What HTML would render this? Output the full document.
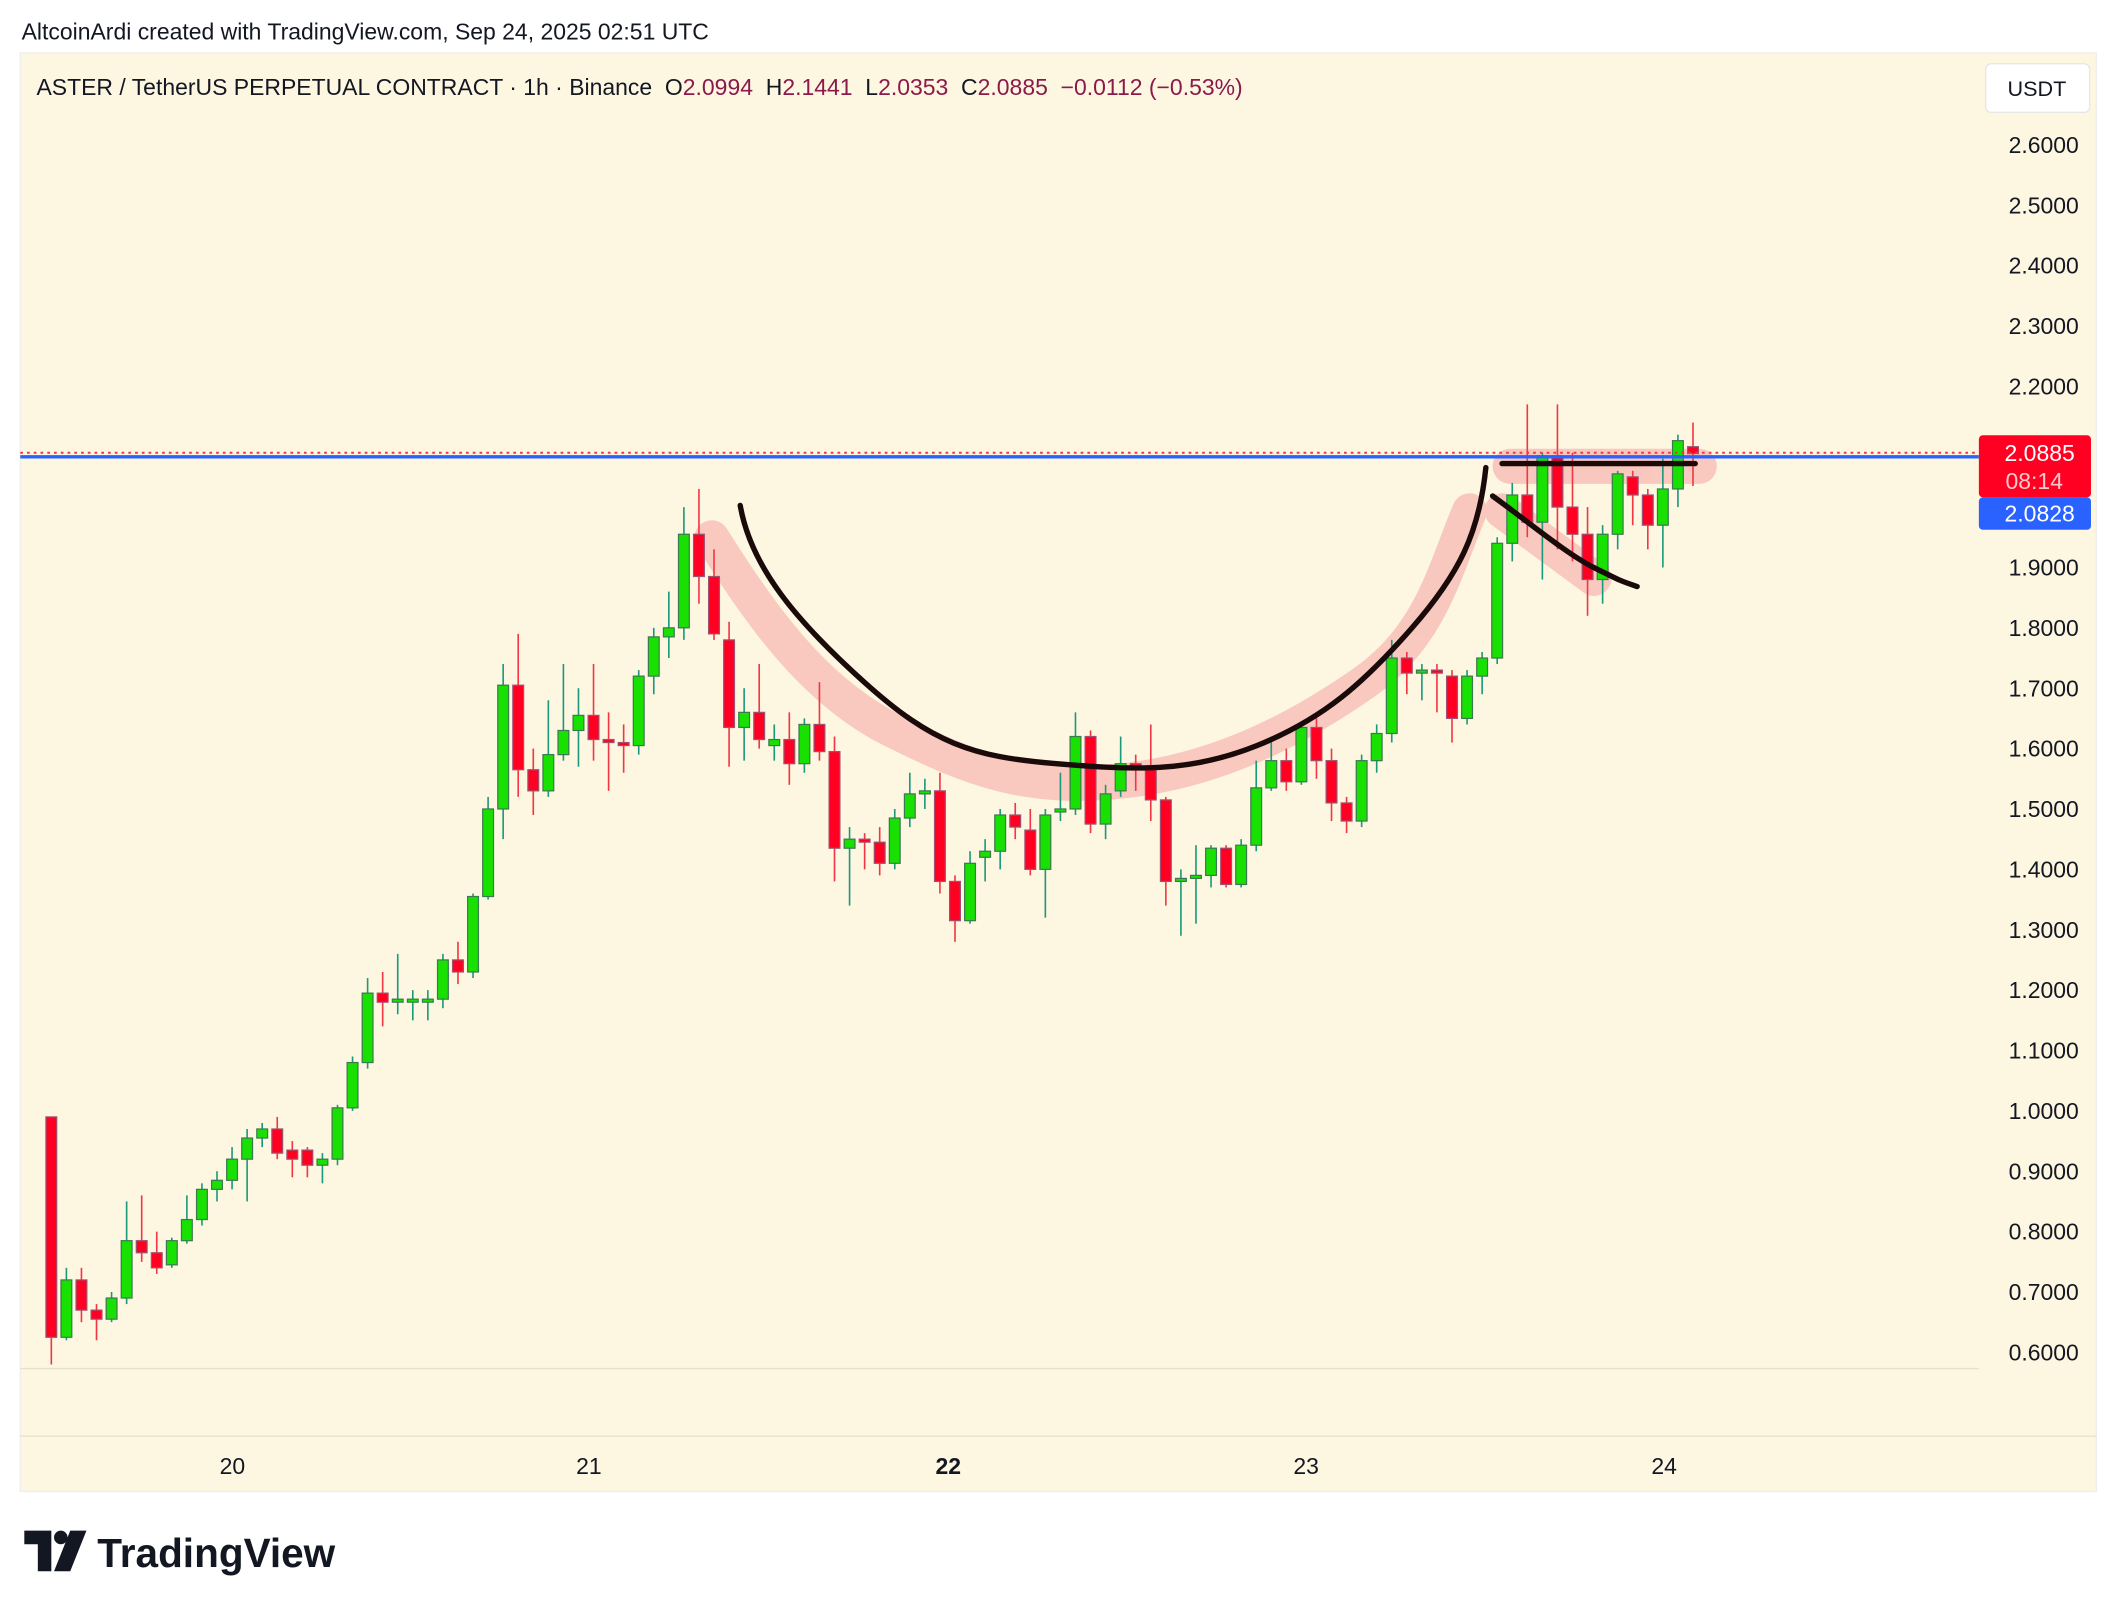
<!DOCTYPE html>
<html><head><meta charset="utf-8"><style>
html,body{margin:0;padding:0;background:#fff;}
svg{display:block}
text{font-family:"Liberation Sans",sans-serif;}
.pre{white-space:pre}
</style></head><body>
<svg id="s" width="2118" height="1612" viewBox="0 0 1568 1193" xmlns="http://www.w3.org/2000/svg">
<rect width="1568" height="1193" fill="#fff"/>
<rect x="15" y="39" width="1537" height="1065" fill="#fdf6e1" stroke="#eeeeee" stroke-width="1"/>
<line x1="15" y1="1013" x2="1465" y2="1013" stroke="#e6e0cc" stroke-width="1"/>
<line x1="15" y1="1063" x2="1552" y2="1063" stroke="#e6e0cc" stroke-width="1"/>
<text x="16" y="29" font-size="17" fill="#131722">AltcoinArdi created with TradingView.com, Sep 24, 2025 02:51 UTC</text>
<text class="pre" x="27" y="70" font-size="17" fill="#131722">ASTER / TetherUS PERPETUAL CONTRACT · 1h · Binance  O<tspan fill="#8b1a4a">2.0994</tspan>  H<tspan fill="#8b1a4a">2.1441</tspan>  L<tspan fill="#8b1a4a">2.0353</tspan>  C<tspan fill="#8b1a4a">2.0885  −0.0112 (−0.53%)</tspan></text>
<rect x="1470" y="47" width="77" height="36" rx="4" fill="#fff" stroke="#e6e6e6"/>
<text x="1508" y="71" font-size="16" fill="#131722" text-anchor="middle">USDT</text>
<g id="axis" font-size="17" fill="#131722" text-anchor="end"></g>
<g id="time" font-size="17" fill="#131722" text-anchor="middle">
<text x="172" y="1091">20</text><text x="436" y="1091">21</text><text x="702" y="1091" font-weight="bold">22</text><text x="967" y="1091">23</text><text x="1232" y="1091">24</text>
</g>
<g fill="none" stroke="#f8c4bb" stroke-width="26" stroke-linecap="round" stroke-linejoin="round" opacity="0.9">
<path d="M527,398 C560,450 600,510 660,540 S760,585 830,578 S960,540 1010,505 S1070,420 1088,378"/>
<path d="M1112,378 L1180,428"/>
<path d="M1118,345 L1258,345"/>
</g>
<g id="candles"></g>
<line x1="15" y1="335" x2="1465" y2="335" stroke="#f23645" stroke-width="1.5" stroke-dasharray="2,3"/>
<line x1="15" y1="338" x2="1465" y2="338" stroke="#2962ff" stroke-width="2.5"/>
<g fill="none" stroke="#1a0a0a" stroke-width="4" stroke-linecap="round" stroke-linejoin="round">
<path d="M548,374 C556,420 590,460 640,505 S720,560 780,565 S880,572 930,552 S1010,505 1045,465 S1095,395 1100,346"/>
<path d="M1105,367 C1130,385 1160,410 1180,420 S1200,430 1212,434"/>
<path d="M1112,343 L1255,343"/>
</g>
<rect x="1465" y="322" width="83" height="46" rx="3" fill="#ff0022"/>
<text x="1510" y="341" font-size="17" fill="#fff" text-anchor="middle">2.0885</text>
<text x="1506" y="362" font-size="17" fill="#ffc8cc" text-anchor="middle">08:14</text>
<rect x="1465" y="368" width="83" height="24" rx="3" fill="#2962ff"/>
<text x="1510" y="386" font-size="17" fill="#fff" text-anchor="middle">2.0828</text>
<g transform="translate(18,1133)" fill="#131722">
<path d="M0,0 H20 V30 H10 V10 H0 Z"/>
<circle cx="27" cy="5" r="5"/>
<path d="M34,0 H46 L34,30 H22 Z"/>
</g>
<text x="72" y="1160" font-size="30" font-weight="bold" fill="#131722">TradingView</text>
</svg>
<script>
const ns="http://www.w3.org/2000/svg";
const Y=p=>107+(2.6-p)*447;
const ax=document.getElementById('axis');
for(let i=0;i<=20;i++){const p=0.6+i*0.1;if(Math.abs(p-2.1)<0.01||Math.abs(p-2.0)<0.01)continue;
const t=document.createElementNS(ns,'text');t.setAttribute('x',1539);t.setAttribute('y',Y(p)+6);t.textContent=p.toFixed(4);ax.appendChild(t);}
const d=[
[.99,.625,.99,.58],[.625,.72,.74,.62],[.72,.67,.74,.65],[.67,.655,.68,.62],[.655,.69,.70,.65],[.69,.785,.85,.68],[.785,.765,.86,.75],[.765,.74,.80,.73],[.745,.785,.79,.74],[.785,.82,.86,.78],
[.82,.87,.88,.81],[.87,.885,.90,.85],[.885,.92,.94,.87],[.92,.955,.97,.85],[.955,.97,.98,.94],[.97,.93,.99,.92],[.935,.92,.95,.89],[.935,.91,.94,.89],[.91,.92,.93,.88],[.92,1.005,1.01,.91],
[1.005,1.08,1.09,1.0],[1.08,1.195,1.22,1.07],[1.195,1.18,1.23,1.14],[1.18,1.185,1.26,1.16],[1.18,1.185,1.2,1.15],[1.18,1.185,1.2,1.15],[1.185,1.25,1.26,1.17],[1.25,1.23,1.28,1.21],[1.23,1.355,1.36,1.22],[1.355,1.5,1.52,1.35],
[1.5,1.705,1.74,1.45],[1.705,1.565,1.79,1.52],[1.565,1.53,1.60,1.49],[1.53,1.59,1.68,1.52],[1.59,1.63,1.74,1.58],[1.63,1.655,1.70,1.57],[1.655,1.615,1.74,1.58],[1.615,1.61,1.66,1.53],[1.61,1.605,1.64,1.56],[1.605,1.72,1.73,1.59],
[1.72,1.785,1.80,1.69],[1.785,1.8,1.86,1.75],[1.8,1.955,2.0,1.78],[1.955,1.885,2.03,1.84],[1.885,1.79,1.93,1.78],[1.78,1.635,1.81,1.57],[1.635,1.66,1.70,1.58],[1.66,1.615,1.74,1.60],[1.605,1.615,1.64,1.58],[1.615,1.575,1.66,1.54],
[1.575,1.64,1.65,1.56],[1.64,1.595,1.71,1.58],[1.595,1.435,1.62,1.38],[1.435,1.45,1.47,1.34],[1.45,1.445,1.46,1.40],[1.445,1.41,1.47,1.39],[1.41,1.485,1.50,1.40],[1.485,1.525,1.56,1.47],[1.525,1.53,1.55,1.50],[1.53,1.38,1.56,1.36],
[1.38,1.315,1.39,1.28],[1.315,1.41,1.43,1.31],[1.42,1.43,1.45,1.38],[1.43,1.49,1.50,1.40],[1.49,1.47,1.51,1.45],[1.465,1.4,1.50,1.39],[1.4,1.49,1.50,1.32],[1.495,1.5,1.56,1.48],[1.5,1.62,1.66,1.49],[1.62,1.475,1.63,1.46],
[1.475,1.525,1.54,1.45],[1.53,1.575,1.62,1.52],[1.575,1.565,1.59,1.53],[1.57,1.515,1.64,1.48],[1.515,1.38,1.52,1.34],[1.38,1.385,1.40,1.29],[1.385,1.39,1.44,1.31],[1.39,1.435,1.44,1.37],[1.435,1.375,1.44,1.37],[1.375,1.44,1.45,1.37],
[1.44,1.535,1.58,1.43],[1.535,1.58,1.62,1.53],[1.58,1.545,1.60,1.53],[1.545,1.635,1.64,1.54],[1.635,1.58,1.65,1.55],[1.58,1.51,1.60,1.48],[1.51,1.48,1.52,1.46],[1.48,1.58,1.59,1.47],[1.58,1.625,1.64,1.56],[1.625,1.75,1.78,1.61],
[1.75,1.725,1.76,1.69],[1.725,1.73,1.74,1.68],[1.73,1.725,1.74,1.66],[1.72,1.65,1.73,1.61],[1.65,1.72,1.73,1.64],[1.72,1.75,1.76,1.69],[1.75,1.94,1.95,1.74],[1.94,2.02,2.04,1.91],[2.02,1.975,2.17,1.95],[1.975,2.085,2.09,1.88],
[2.085,2.0,2.17,1.93],[2.0,1.955,2.09,1.91],[1.955,1.88,2.0,1.82],[1.88,1.955,1.97,1.84],[1.955,2.055,2.06,1.93],[2.05,2.02,2.06,1.97],[2.02,1.97,2.03,1.93],[1.97,2.03,2.08,1.90],[2.03,2.11,2.12,2.0],[2.1,2.0885,2.14,2.035]];
const g=document.getElementById('candles');
let h='';
d.forEach((c,i)=>{const x=38+i*11.15;const [o,cl,hi,lo]=c;const up=cl>=o;
const wk=up?'#1a9a7a':'#f23645';
h+=`<line x1="${x}" y1="${Y(hi)}" x2="${x}" y2="${Y(lo)}" stroke="${wk}" stroke-width="1.2"/>`;
const t=Y(Math.max(o,cl)),b=Y(Math.min(o,cl));
h+=`<rect x="${x-4}" y="${t}" width="8" height="${Math.max(b-t,1.5)}" fill="${up?'#18e000':'#ff0022'}" stroke="${up?'#3a7a50':'#a05070'}" stroke-width="0.9"/>`;});
g.innerHTML=h;
</script>
</body></html>
